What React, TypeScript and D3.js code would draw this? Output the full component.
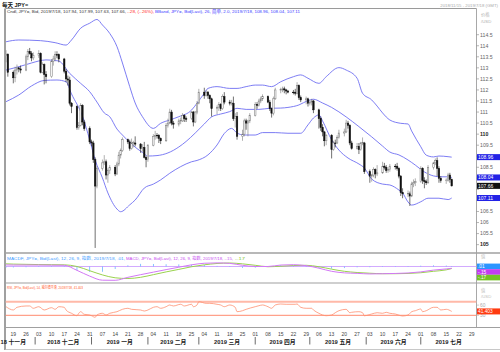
import React from "react";
import * as d3 from "d3";

// ---------- DATA ----------
const TRADING_START = "2018-11-15";
const TRADING_END = "2019-07-18";

const opens = [113.55,113.62,112.80,112.55,112.90,113.00,112.95,112.90,113.50,113.75,113.65,113.45,113.55,113.65,112.80,113.15,112.70,112.60,113.30,113.40,113.60,113.60,113.40,112.85,112.50,112.45,111.40,111.25,110.30,110.40,111.30,110.55,110.25,109.65,109.60,108.85,107.65,108.45,108.70,108.75,108.15,108.35,108.50,108.20,108.65,109.05,109.25,109.75,109.65,109.35,109.60,109.60,109.55,109.35,109.40,108.95,108.85,109.50,109.90,109.95,109.95,109.80,109.70,110.40,110.50,111.00,110.50,110.45,110.60,110.60,110.85,110.70,110.70,111.00,110.55,111.00,111.40,111.90,111.75,111.90,111.75,111.60,111.15,111.20,111.35,111.15,111.70,111.45,111.40,111.40,110.70,110.80,109.90,110.00,110.60,110.50,110.60,110.85,111.35,111.30,111.50,111.60,111.70,111.45,111.15,110.95,111.60,112.00,112.00,112.05,112.00,111.95,111.90,111.90,111.85,112.20,111.65,111.55,111.60,111.40,111.45,111.50,111.10,110.70,110.30,110.10,109.70,109.95,109.30,109.60,109.60,109.85,110.05,110.10,110.50,110.40,109.60,109.35,109.45,109.30,109.60,109.60,108.30,108.10,108.15,108.40,108.20,108.25,108.55,108.50,108.35,108.40,108.55,108.55,108.45,108.10,107.35,107.30,107.30,107.20,107.75,107.80,107.85,108.45,107.90,107.85,107.80,108.50,108.70,108.80,108.45,108.00,107.90,107.90,108.15,107.94];
const highs = [113.80,113.65,112.88,113.05,113.15,113.05,113.10,113.60,113.85,113.90,113.75,113.70,113.80,113.70,113.25,113.20,112.85,113.40,113.55,113.75,113.75,113.65,113.45,112.95,112.65,112.60,111.45,111.30,110.55,111.40,111.35,110.65,110.35,109.75,109.70,108.95,108.55,108.85,109.05,108.85,108.45,108.60,108.60,108.75,109.20,109.35,109.85,109.80,109.75,109.80,109.70,109.90,109.60,109.55,109.65,109.00,109.55,110.00,110.15,110.05,110.00,109.85,110.50,110.70,111.15,111.10,110.60,110.70,110.75,110.95,110.90,110.80,111.05,111.05,111.05,111.50,112.05,112.10,112.00,111.95,111.80,111.65,111.30,111.45,111.40,111.80,111.90,111.55,111.55,111.70,110.95,111.00,110.20,110.70,110.70,110.65,110.95,111.45,111.45,111.60,111.70,111.80,111.75,111.55,111.20,111.70,112.10,112.10,112.15,112.15,112.05,112.00,112.00,112.05,112.35,112.25,111.75,111.70,111.65,111.55,111.60,111.55,111.15,110.80,110.45,110.15,110.00,110.00,109.70,109.75,109.95,110.20,110.25,110.65,110.60,110.45,109.70,109.60,109.60,109.65,109.85,109.65,108.40,108.20,108.50,108.45,108.60,108.75,108.70,108.60,108.50,108.65,108.65,108.70,108.50,108.15,107.55,107.45,107.40,107.85,107.95,108.00,108.55,108.50,108.05,107.95,108.60,108.75,108.90,108.95,108.55,108.10,108.00,108.25,108.25,107.99];
const lows = [113.25,112.60,112.30,112.35,112.70,112.80,112.75,112.85,113.35,113.60,113.30,113.35,113.45,112.75,112.75,112.25,112.30,112.55,113.10,113.30,113.45,113.25,112.75,112.35,112.20,111.30,110.95,110.20,110.20,110.35,110.40,110.15,109.55,109.45,108.70,104.85,107.55,108.35,108.60,107.95,107.80,108.20,108.10,108.15,108.55,108.90,109.20,109.55,109.25,109.30,109.40,109.45,109.15,109.20,108.90,108.50,108.75,109.45,109.75,109.80,109.60,109.55,109.65,110.30,110.45,110.40,110.25,110.35,110.45,110.55,110.55,110.55,110.65,110.35,110.50,110.90,111.35,111.60,111.70,111.60,111.40,110.80,110.90,111.05,111.05,111.10,111.35,111.30,111.30,110.60,110.30,109.75,109.70,109.90,110.20,109.90,110.50,110.80,111.15,111.25,111.40,111.50,111.40,111.05,110.75,110.85,111.55,111.85,111.90,111.85,111.80,111.85,111.80,111.75,111.80,111.55,111.45,111.35,111.25,111.30,111.30,110.95,110.25,110.15,109.90,109.45,109.50,108.90,109.25,109.40,109.55,109.80,109.90,110.05,110.25,109.50,109.30,109.30,109.10,109.25,109.50,108.20,107.80,107.85,108.05,108.00,108.10,108.20,108.40,108.25,108.25,108.30,108.40,108.35,108.00,107.20,107.10,107.15,106.75,107.15,107.60,107.65,107.80,107.75,107.55,107.70,107.75,108.40,108.60,108.10,107.80,107.80,107.75,107.85,107.80,107.63];
const closes = [113.62,112.80,112.55,112.90,113.00,112.95,112.90,113.50,113.75,113.65,113.45,113.55,113.65,112.80,113.15,112.70,112.60,113.30,113.40,113.60,113.58,113.40,112.85,112.50,112.45,111.40,111.25,110.30,110.40,111.30,110.55,110.25,109.65,109.60,108.85,107.65,108.45,108.70,108.75,108.15,108.35,108.50,108.20,108.65,109.05,109.25,109.75,109.65,109.35,109.60,109.62,109.55,109.35,109.40,108.95,108.85,109.50,109.90,109.95,109.93,109.80,109.70,110.40,110.50,111.00,110.50,110.45,110.60,110.62,110.85,110.70,110.68,111.00,110.55,111.00,111.40,111.90,111.75,111.90,111.75,111.60,111.15,111.20,111.35,111.15,111.70,111.45,111.40,111.42,110.70,110.80,109.90,110.00,110.60,110.50,110.60,110.85,111.35,111.30,111.50,111.60,111.70,111.45,111.15,110.95,111.60,112.00,112.02,112.05,112.00,111.95,111.90,111.88,111.85,112.20,111.65,111.55,111.60,111.40,111.45,111.50,111.10,110.70,110.30,110.10,109.70,109.95,109.30,109.60,109.58,109.85,110.05,110.10,110.50,110.40,109.60,109.35,109.45,109.30,109.60,109.62,108.30,108.10,108.15,108.40,108.20,108.25,108.55,108.50,108.35,108.40,108.55,108.53,108.45,108.10,107.35,107.30,107.32,107.20,107.75,107.80,107.85,108.45,107.90,107.85,107.80,108.50,108.70,108.80,108.45,108.00,107.90,107.92,108.15,107.95,107.66];

const bbUpper: [string, number][] = [
  ["2018-11-15",114.18],["2018-11-22",114.26],["2018-12-04",114.23],["2018-12-12",114.14],["2018-12-18",114.03],
  ["2018-12-21",114.26],["2018-12-26",114.79],["2018-12-31",115.02],["2019-01-04",115.19],["2019-01-07",114.94],
  ["2019-01-11",114.56],["2019-01-15",113.96],["2019-01-18",113.22],["2019-01-22",112.15],["2019-01-25",111.41],
  ["2019-01-29",110.79],["2019-02-04",110.26],["2019-02-08",110.49],["2019-02-13",110.64],["2019-02-18",110.79],
  ["2019-02-25",111.09],["2019-02-28",111.40],["2019-03-04",111.85],["2019-03-06",112.07],["2019-03-11",112.15],
  ["2019-03-18",112.07],["2019-03-22",112.07],["2019-03-27",112.15],["2019-04-01",112.22],["2019-04-05",112.22],
  ["2019-04-10",112.15],["2019-04-15",112.37],["2019-04-22",112.60],["2019-04-26",112.68],["2019-04-30",112.53],
  ["2019-05-06",112.30],["2019-05-10",112.60],["2019-05-17",113.01],["2019-05-21",112.90],["2019-05-27",112.53],
  ["2019-05-30",111.85],["2019-06-04",111.55],["2019-06-07",111.27],["2019-06-10",110.96],["2019-06-14",110.64],
  ["2019-06-20",110.49],["2019-06-24",110.46],["2019-06-26",110.14],["2019-07-01",109.43],["2019-07-04",109.05],
  ["2019-07-08",108.97],["2019-07-11",109.01],["2019-07-16",108.98],["2019-07-18",108.96]];
const bbMiddle: [string, number][] = [
  ["2018-11-15",112.90],["2018-11-22",113.05],["2018-11-29",113.22],["2018-12-03",113.31],["2018-12-07",113.36],
  ["2018-12-12",113.33],["2018-12-14",113.31],["2018-12-20",112.75],["2018-12-26",112.30],["2018-12-31",111.92],
  ["2019-01-04",111.45],["2019-01-08",110.96],["2019-01-11",110.79],["2019-01-15",110.23],["2019-01-18",109.96],
  ["2019-01-23",109.55],["2019-01-29",109.17],["2019-02-01",109.01],["2019-02-06",109.03],["2019-02-12",109.15],
  ["2019-02-18",109.42],["2019-02-22",109.67],["2019-02-27",110.05],["2019-03-04",110.46],["2019-03-08",110.78],
  ["2019-03-13",110.91],["2019-03-18",111.02],["2019-03-22",111.17],["2019-03-27",111.12],["2019-04-03",111.12],
  ["2019-04-09",111.17],["2019-04-15",111.18],["2019-04-19",111.21],["2019-04-25",111.32],["2019-04-30",111.52],
  ["2019-05-03",111.58],["2019-05-08",111.41],["2019-05-13",111.21],["2019-05-21",110.78],["2019-05-28",110.34],
  ["2019-06-04",109.88],["2019-06-10",109.46],["2019-06-14",109.19],["2019-06-19",109.06],["2019-06-24",108.83],
  ["2019-06-28",108.60],["2019-07-03",108.29],["2019-07-08",108.11],["2019-07-12",108.07],["2019-07-16",108.07],
  ["2019-07-18",108.04]];
const bbLower: [string, number][] = [
  ["2018-11-15",111.47],["2018-11-22",111.77],["2018-11-29",112.18],["2018-12-06",112.43],["2018-12-13",112.45],
  ["2018-12-18",112.37],["2018-12-21",111.82],["2018-12-27",110.82],["2018-12-31",109.74],["2019-01-03",108.83],
  ["2019-01-07",108.02],["2019-01-10",107.34],["2019-01-15",106.61],["2019-01-17",106.49],["2019-01-22",106.80],
  ["2019-01-25",107.02],["2019-01-30",107.56],["2019-02-04",107.74],["2019-02-08",107.93],["2019-02-13",108.23],
  ["2019-02-19",108.53],["2019-02-25",108.75],["2019-02-28",108.81],["2019-03-06",109.06],["2019-03-11",109.51],
  ["2019-03-15",110.03],["2019-03-19",110.26],["2019-03-22",110.05],["2019-03-26",109.96],["2019-04-01",109.96],
  ["2019-04-05",110.07],["2019-04-12",110.07],["2019-04-19",110.04],["2019-04-26",110.04],["2019-04-30",110.42],
  ["2019-05-03",110.73],["2019-05-06",110.87],["2019-05-08",110.60],["2019-05-13",109.74],["2019-05-17",109.28],
  ["2019-05-22",108.92],["2019-05-28",108.65],["2019-05-31",108.47],["2019-06-04",107.97],["2019-06-10",107.74],
  ["2019-06-14",107.70],["2019-06-19",107.47],["2019-06-21",107.34],["2019-06-24",106.93],["2019-06-26",106.79],
  ["2019-07-01",106.94],["2019-07-05",107.10],["2019-07-11",107.10],["2019-07-16",107.04],["2019-07-18",107.11]];

const macdDates = ["2018-11-15","2018-11-19","2018-11-26","2018-12-03","2018-12-10","2018-12-17","2018-12-24","2018-12-31",
  "2019-01-07","2019-01-14","2019-01-21","2019-01-28","2019-02-04","2019-02-11","2019-02-18","2019-02-25","2019-03-04",
  "2019-03-11","2019-03-18","2019-03-25","2019-04-01","2019-04-08","2019-04-15","2019-04-22","2019-04-29","2019-05-06",
  "2019-05-13","2019-05-20","2019-05-27","2019-06-03","2019-06-10","2019-06-17","2019-06-24","2019-07-01","2019-07-08",
  "2019-07-15","2019-07-18"];
const macdLine = [0.13,0.12,0.12,0.12,0.11,0.10,-0.32,-0.80,-1.14,-1.15,-0.90,-0.68,-0.47,-0.26,-0.06,0.14,0.27,0.30,0.26,0.10,0.00,0.00,0.12,0.15,0.07,-0.14,-0.40,-0.53,-0.57,-0.62,-0.60,-0.58,-0.54,-0.45,-0.30,-0.20,-0.15];
const macdSignal = [0.22,0.20,0.18,0.16,0.15,0.14,0.00,-0.35,-0.70,-0.94,-1.00,-0.90,-0.68,-0.45,-0.24,-0.02,0.14,0.25,0.29,0.22,0.10,-0.02,0.02,0.08,0.10,-0.02,-0.22,-0.40,-0.50,-0.56,-0.60,-0.60,-0.58,-0.52,-0.40,-0.28,-0.17];

const rsiSeries: [string, number][] = [
  ["2018-11-15",55.3],["2018-11-19",45.6],["2018-11-21",53.5],["2018-11-26",57.4],["2018-11-28",57.4],["2018-11-30",50.6],
  ["2018-12-03",55.3],["2018-12-06",45.6],["2018-12-10",52.4],["2018-12-12",47.6],["2018-12-14",55.3],["2018-12-17",53.5],
  ["2018-12-18",45.6],["2018-12-21",35.9],["2018-12-24",28.8],["2018-12-25",35.9],["2018-12-26",40.6],["2018-12-28",32.9],
  ["2018-12-31",30.9],["2019-01-01",28.8],["2019-01-03",24.1],["2019-01-04",30.9],["2019-01-07",35.9],["2019-01-09",30.9],
  ["2019-01-11",35.9],["2019-01-15",40.6],["2019-01-18",47.6],["2019-01-21",50.6],["2019-01-23",47.6],["2019-01-28",45.6],
  ["2019-01-30",42.6],["2019-02-01",45.6],["2019-02-04",53.5],["2019-02-06",55.3],["2019-02-08",50.6],["2019-02-11",55.3],
  ["2019-02-13",60.3],["2019-02-15",57.4],["2019-02-19",62.4],["2019-02-21",57.4],["2019-02-25",62.4],["2019-02-26",55.3],
  ["2019-02-28",60.3],["2019-03-01",70.0],["2019-03-05",65.3],["2019-03-07",65.3],["2019-03-11",62.4],["2019-03-13",60.3],
  ["2019-03-15",55.3],["2019-03-18",60.3],["2019-03-21",53.5],["2019-03-22",40.6],["2019-03-25",43.5],["2019-03-27",47.6],
  ["2019-04-01",55.3],["2019-04-03",58.2],["2019-04-05",60.3],["2019-04-08",55.3],["2019-04-10",50.6],["2019-04-12",60.3],
  ["2019-04-15",63.2],["2019-04-18",62.4],["2019-04-23",62.4],["2019-04-24",63.2],["2019-04-26",53.5],["2019-04-29",50.6],
  ["2019-05-02",50.6],["2019-05-03",45.6],["2019-05-06",35.9],["2019-05-08",30.9],["2019-05-10",28.8],["2019-05-13",30.9],
  ["2019-05-15",37.6],["2019-05-17",43.5],["2019-05-21",47.6],["2019-05-23",37.6],["2019-05-24",38.8],["2019-05-28",40.6],
  ["2019-05-30",37.6],["2019-05-31",28.8],["2019-06-04",33.8],["2019-06-07",37.6],["2019-06-10",35.9],["2019-06-12",38.8],
  ["2019-06-14",35.9],["2019-06-17",33.8],["2019-06-20",28.8],["2019-06-21",27.9],["2019-06-24",30.9],["2019-06-26",40.6],
  ["2019-06-28",43.5],["2019-07-01",48.5],["2019-07-02",40.6],["2019-07-04",43.5],["2019-07-08",53.5],["2019-07-10",53.5],
  ["2019-07-12",45.6],["2019-07-15",47.6],["2019-07-18",41.4]];

const priceTicks = [105,105.5,106,106.5,107,107.5,108,108.5,109,109.5,110,110.5,111,111.5,112,112.5,113,113.5,114,114.5];
const monthNames = ["18 十一月","2018 十二月","2019 一月","2019 二月","2019 三月","2019 四月","2019 五月","2019 六月","2019 七月"];
const monthStarts = ["2018-11-01","2018-12-01","2019-01-01","2019-02-01","2019-03-01","2019-04-01","2019-05-01","2019-06-01","2019-07-01","2019-08-01"];

const headerCndl = "Cndl, JPY=, Bid, 2019/7/18, 107.94, 107.99, 107.63, 107.66, ";
const headerChg = "-.28, (-.26%), ";
const headerBB = "BBand, JPY=, Bid(Last), 26, 简单, 2.0, 2019/7/18, 108.96, 108.04, 107.11";
const headerMacdF = "MACDF, JPY=, Bid(Last), 12, 26, 9, 指数, 2019/7/18, .01, ";
const headerMacd = "MACD, JPY=, Bid(Last), 12, 26, 9, 指数, 2019/7/18, -.15, ";
const headerSig = "-.17";
const headerRsi = "RSI, JPY=, Bid(Last), 14, 威尔德平滑, 2019/7/18, 41.403";

// ---------- CHART ----------
const FONT = "'Liberation Sans','Noto Sans CJK SC',sans-serif";
const parse = d3.utcParse("%Y-%m-%d");

export default function App() {
  const W = 500, H = 352;
  const L = 5.5, R = 476.5;
  const x = d3.scaleUtc().domain([parse("2018-11-19")!, parse("2019-07-29")!]).range([13.3, 471.7]);
  const yP = d3.scaleLinear().domain([104.667, 115.663]).range([252, 9]);
  const yM = d3.scaleLinear().domain([-1.29, 1.04]).range([282, 254]);
  const yR = d3.scaleLinear().domain([0, 100]).range([325.5, 291.5]);

  const days = d3.utcDays(parse(TRADING_START)!, d3.utcDay.offset(parse(TRADING_END)!, 1))
    .filter((d) => d.getUTCDay() !== 0 && d.getUTCDay() !== 6);
  const candles = days.map((d, i) => ({ d, o: opens[i], h: highs[i], l: lows[i], c: closes[i] }));

  const bandLine = d3.line<[string, number]>().x((p) => x(parse(p[0])!)).y((p) => yP(p[1])).curve(d3.curveMonotoneX);
  const rsiLine = d3.line<[string, number]>().x((p) => x(parse(p[0])!)).y((p) => yR(p[1])).curve(d3.curveMonotoneX);
  const mLine = d3.line<number>().x((_, i) => x(parse(macdDates[i])!)).y((v) => yM(v)).curve(d3.curveMonotoneX);

  const mondays = d3.utcMonday.range(parse("2018-11-19")!, parse("2019-07-30")!);
  const fmtDay = d3.utcFormat("%d");

  const months = monthNames.map((name, i) => {
    const a = Math.max(x(parse(monthStarts[i])!), 6);
    const b = Math.min(x(parse(monthStarts[i + 1])!), R);
    return { name, cx: (a + b) / 2, start: x(parse(monthStarts[i])!), i };
  });

  // stacked MACD tags
  const macdTags = [
    { v: 0.01, label: ".01", color: "#2b95ff" },
    { v: -0.15, label: "-.15", color: "#c23cf0" },
    { v: -0.17, label: "-.17", color: "#74c424" },
  ];
  let prevY = -Infinity;
  const macdTagYs = macdTags.map((t) => {
    const yy = Math.max(yM(t.v), prevY + 5.6);
    prevY = yy;
    return yy;
  });

  const priceTags = [
    { v: 108.96, label: "108.96", color: "#2222e6" },
    { v: 108.04, label: "108.04", color: "#2222e6" },
    { v: 107.66, label: "107.66", color: "#111111" },
    { v: 107.11, label: "107.11", color: "#2222e6" },
  ];
  // axis labels hidden behind a value tag (as in the reference)
  const covered = (t: number) => priceTags.some((p) => Math.abs(yP(p.v) - yP(t)) < 6);

  return (
    <div style={{ position: "absolute", left: 0, top: 0, width: W, height: H, background: "#fff" }}>
      <svg width={W} height={H} style={{ display: "block", fontFamily: FONT }}>
        <defs>
          <clipPath id="mainClip"><rect x={L} y={9} width={R - L} height={243} /></clipPath>
          <clipPath id="macdClip"><rect x={L} y={254} width={R - L} height={28} /></clipPath>
          <clipPath id="rsiClip"><rect x={L} y={284} width={R - L} height={43} /></clipPath>
        </defs>
        <rect x={0} y={0} width={W} height={H} fill="#fff" />

        {/* title row */}
        <text x={2} y={7} fontSize={5.5} fontWeight="bold" fill="#111">每天 JPY=</text>
        <text x={498} y={6.5} fontSize={4.3} fill="#aaa" textAnchor="end">2018/11/15 - 2019/7/18 (GMT)</text>

        {/* frame */}
        <line x1={L} x2={R} y1={8.5} y2={8.5} stroke="#9a9a9a" strokeWidth={1} />
        <line x1={5} x2={5} y1={8.5} y2={350} stroke="#808080" strokeWidth={1.5} />
        <line x1={R} x2={R} y1={8.5} y2={327.5} stroke="#a8a8a8" strokeWidth={1} />
        <line x1={L} x2={W} y1={253} y2={253} stroke="#a0a0a0" strokeWidth={1.6} />
        <line x1={L} x2={W} y1={283} y2={283} stroke="#a0a0a0" strokeWidth={1.2} />
        <line x1={L} x2={W} y1={327.5} y2={327.5} stroke="#a0a0a0" strokeWidth={1} />
        <line x1={L} x2={W} y1={349.5} y2={349.5} stroke="#c8c8c8" strokeWidth={1} />

        {/* main headers */}
        <text x={7} y={13} fontSize={4.3} fill="#333" textLength={119} lengthAdjust="spacingAndGlyphs">{headerCndl}</text>
        <text x={127} y={13} fontSize={4.3} fill="#ff2a2a" textLength={27} lengthAdjust="spacingAndGlyphs">{headerChg}</text>
        <text x={155} y={13} fontSize={4.3} fill="#3a3aff" textLength={145} lengthAdjust="spacingAndGlyphs">{headerBB}</text>

        {/* Bollinger bands */}
        <g clipPath="url(#mainClip)" fill="none" stroke="#6e6ef2" strokeWidth={0.9}>
          <path d={bandLine(bbUpper) || ""} />
          <path d={bandLine(bbMiddle) || ""} />
          <path d={bandLine(bbLower) || ""} />
        </g>

        {/* candles */}
        <g clipPath="url(#mainClip)">
          {candles.map((k, i) => {
            const cx = x(k.d);
            const up = k.c >= k.o;
            const top = yP(Math.max(k.o, k.c));
            const bot = yP(Math.min(k.o, k.c));
            return (
              <g key={i}>
                <line x1={cx} x2={cx} y1={yP(k.h)} y2={yP(k.l)} stroke={up ? "#7a7a7a" : "#111"} strokeWidth={0.6} />
                <rect x={cx - 0.75} y={top} width={1.5} height={Math.max(bot - top, 0.6)}
                  fill={up ? "#f4f4f4" : "#111"} stroke={up ? "#7a7a7a" : "#111"} strokeWidth={0.5} />
              </g>
            );
          })}
        </g>

        {/* price axis */}
        <text x={481} y={16} fontSize={4.3} fill="#b0b0b0">价格</text>
        <text x={481} y={23} fontSize={4.3} fill="#b0b0b0">/USD</text>
        {priceTicks.map((t) => (
          <g key={t}>
            <line x1={R} x2={479} y1={yP(t)} y2={yP(t)} stroke="#888" strokeWidth={0.6} />
            {!covered(t) && (
              <text x={480} y={yP(t)} dy="0.35em" fontSize={5.2}
                fill={t % 5 === 0 ? "#222" : "#666"} fontWeight={t % 5 === 0 ? "bold" : "normal"}>{String(t)}</text>
            )}
          </g>
        ))}
        {priceTags.map((t) => (
          <g key={t.label}>
            <rect x={477} y={yP(t.v) - 3} width={23} height={6} fill={t.color} />
            <text x={478} y={yP(t.v)} dy="0.35em" fontSize={5} fill="#fff">{t.label}</text>
          </g>
        ))}

        {/* MACD panel */}
        <text x={7} y={259.5} fontSize={4.1} fill="#3d9cff" textLength={118} lengthAdjust="spacingAndGlyphs">{headerMacdF}</text>
        <text x={126} y={259.5} fontSize={4.1} fill="#c84cf0" textLength={107} lengthAdjust="spacingAndGlyphs">{headerMacd}</text>
        <text x={235} y={259.5} fontSize={4.1} fill="#86c836" textLength={10} lengthAdjust="spacingAndGlyphs">{headerSig}</text>
        <g clipPath="url(#macdClip)">
          <line x1={L} x2={R} y1={yM(0)} y2={yM(0)} stroke="#d2aaff" strokeWidth={1} />
          {macdDates.map((d, i) => {
            const h = macdLine[i] - macdSignal[i];
            const y0 = yM(0), y1 = yM(h);
            return <rect key={d} x={x(parse(d)!) - 0.4} y={Math.min(y0, y1)} width={0.8}
              height={Math.max(Math.abs(y1 - y0), 0.5)} fill="#6ab4ff" />;
          })}
          <path d={mLine(macdSignal) || ""} fill="none" stroke="#9ad24e" strokeWidth={1} />
          <path d={mLine(macdLine) || ""} fill="none" stroke="#d278f5" strokeWidth={1} />
        </g>
        <text x={481} y={258} fontSize={4.3} fill="#c0c0c0">值</text>
        {macdTags.map((t, i) => (
          <g key={t.label}>
            <rect x={477} y={macdTagYs[i] - 2.8} width={23} height={5.6} fill={t.color} />
            <text x={478} y={macdTagYs[i]} dy="0.35em" fontSize={4.8} fill="#fff">{t.label}</text>
          </g>
        ))}

        {/* RSI panel */}
        <text x={7} y={288.5} fontSize={4.1} fill="#ff5a2a" textLength={76} lengthAdjust="spacingAndGlyphs">{headerRsi}</text>
        <g clipPath="url(#rsiClip)">
          <line x1={L} x2={R} y1={yR(70)} y2={yR(70)} stroke="#ffb9a8" strokeWidth={2} />
          <line x1={L} x2={R} y1={yR(30)} y2={yR(30)} stroke="#ff8a6e" strokeWidth={1} />
          <path d={rsiLine(rsiSeries) || ""} fill="none" stroke="#ff8f70" strokeWidth={0.8} />
        </g>
        <text x={481} y={292} fontSize={4.3} fill="#c0c0c0">值</text>
        <text x={481} y={298} fontSize={4.3} fill="#c0c0c0">/USD</text>
        {[60, 30].map((t) => (
          <g key={t}>
            <line x1={R} x2={479} y1={yR(t)} y2={yR(t)} stroke="#aaa" strokeWidth={0.6} />
            <text x={480} y={yR(t)} dy="0.35em" fontSize={4.8} fill="#aaa">{t}</text>
          </g>
        ))}
        <rect x={477} y={yR(41.403) - 3} width={23} height={6} fill="#ff3a10" />
        <text x={478} y={yR(41.403)} dy="0.35em" fontSize={4.8} fill="#fff">41.403</text>

        {/* x axis */}
        {mondays.map((d) => (
          <text key={+d} x={x(d)} y={335.5} fontSize={5} fill="#444" textAnchor="middle">{fmtDay(d)}</text>
        ))}
        {months.map((m) => (
          <g key={m.name}>
            {m.i > 0 && <line x1={m.start} x2={m.start} y1={337} y2={344.5} stroke="#444" strokeWidth={0.8} />}
            <text x={m.i === 0 ? 0.5 : m.cx} y={343.5} fontSize={5.8} fontWeight="bold" fill="#222"
              textAnchor={m.i === 0 ? "start" : "middle"}>{m.name}</text>
          </g>
        ))}
      </svg>
    </div>
  );
}
